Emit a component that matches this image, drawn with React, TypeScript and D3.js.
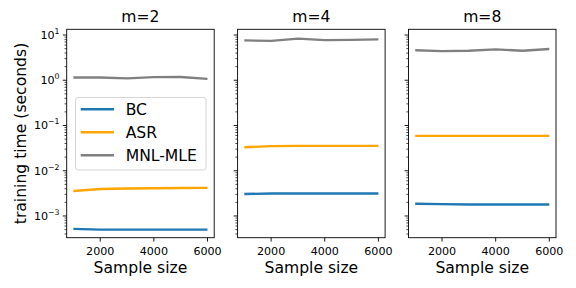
import * as d3 from "d3";

const sampleSizes = [1000, 2000, 3000, 4000, 5000, 6000];
const panelTitles = ["m=2", "m=4", "m=8"];
const methods = ["BC", "ASR", "MNL-MLE"];
const colors = ["#1f77b4", "#ffa500", "#808080"];

// training time (seconds), one array per method per panel
const bcTimes = [
  [5.2e-4, 5.0e-4, 5.0e-4, 5.0e-4, 5.0e-4, 5.0e-4],
  [3.05e-3, 3.15e-3, 3.15e-3, 3.15e-3, 3.15e-3, 3.15e-3],
  [1.87e-3, 1.83e-3, 1.8e-3, 1.8e-3, 1.8e-3, 1.8e-3],
];
const asrTimes = [
  [3.57e-3, 3.95e-3, 4.05e-3, 4.1e-3, 4.15e-3, 4.17e-3],
  [3.3e-2, 3.5e-2, 3.55e-2, 3.55e-2, 3.55e-2, 3.55e-2],
  [5.9e-2, 5.9e-2, 5.9e-2, 5.9e-2, 5.9e-2, 5.9e-2],
];
const mnlTimes = [
  [1.15, 1.15, 1.1, 1.17, 1.18, 1.07],
  [7.6, 7.4, 8.3, 7.7, 7.8, 8.0],
  [4.6, 4.4, 4.5, 4.8, 4.5, 4.9],
];
const xTicks = [2000, 4000, 6000];
const yDecades = [-3, -2, -1, 0, 1];

const W = 576;
const H = 288;
const top = 29.3;
const bottom = 237.7;
const panelW = 147.5;
const panelLefts = [66.7, 237.6, 408.5];
const font = "DejaVu Sans, sans-serif";

const y = d3
  .scaleLog()
  .domain([Math.pow(10, -3.48), Math.pow(10, 1.126)])
  .range([bottom, top]);

const minorTicks: number[] = [];
for (let e = -4; e <= 1; e++) {
  for (let k = 2; k <= 9; k++) {
    const v = k * Math.pow(10, e);
    const [lo, hi] = y.domain();
    if (v >= lo && v <= hi) minorTicks.push(v);
  }
}

function Panel({ idx }: { idx: number }) {
  const left = panelLefts[idx];
  const x = d3
    .scaleLinear()
    .domain([750, 6250])
    .range([left, left + panelW]);
  const series = [bcTimes[idx], asrTimes[idx], mnlTimes[idx]];
  const line = d3
    .line<number>()
    .x((_, i) => x(sampleSizes[i]))
    .y((d) => y(d));

  return (
    <g>
      {series.map((s, i) => (
        <path
          key={i}
          d={line(s) || ""}
          fill="none"
          stroke={colors[i]}
          strokeWidth={2.4}
          strokeLinejoin="round"
          strokeLinecap="butt"
        />
      ))}
      <rect
        x={left}
        y={top}
        width={panelW}
        height={bottom - top}
        fill="none"
        stroke="#000"
        strokeWidth={0.9}
      />
      {yDecades.map((e) => (
        <line
          key={e}
          x1={left - 3.9}
          x2={left}
          y1={y(Math.pow(10, e))}
          y2={y(Math.pow(10, e))}
          stroke="#000"
          strokeWidth={0.9}
        />
      ))}
      {minorTicks.map((v, i) => (
        <line
          key={i}
          x1={left - 2.2}
          x2={left}
          y1={y(v)}
          y2={y(v)}
          stroke="#000"
          strokeWidth={0.7}
        />
      ))}
      {idx === 0 &&
        yDecades.map((e) => (
          <text
            key={e}
            x={59.5}
            y={y(Math.pow(10, e)) + 4}
            textAnchor="end"
            fontSize={11.1}
            fontFamily={font}
          >
            10
            <tspan dy={-5} fontSize={7.8}>
              {e < 0 ? "\u2212" + Math.abs(e) : String(e)}
            </tspan>
          </text>
        ))}
      {xTicks.map((t) => (
        <g key={t}>
          <line
            x1={x(t)}
            x2={x(t)}
            y1={bottom}
            y2={bottom + 3.9}
            stroke="#000"
            strokeWidth={0.9}
          />
          <text
            x={x(t)}
            y={255}
            textAnchor="middle"
            fontSize={11.1}
            fontFamily={font}
          >
            {t}
          </text>
        </g>
      ))}
      <text
        x={left + panelW / 2}
        y={21.5}
        textAnchor="middle"
        fontSize={15.6}
        fontFamily={font}
      >
        {panelTitles[idx]}
      </text>
      <text
        x={left + panelW / 2}
        y={273}
        textAnchor="middle"
        fontSize={15.6}
        fontFamily={font}
      >
        Sample size
      </text>
    </g>
  );
}

function Legend() {
  const lx = 75.5;
  const ly = 97.5;
  return (
    <g>
      <rect
        x={lx}
        y={ly}
        width={130.5}
        height={72.5}
        rx={2.5}
        fill="#fff"
        fillOpacity={0.8}
        stroke="#d0d0d0"
        strokeWidth={0.9}
      />
      {methods.map((m, i) => {
        const cy = 109.3 + i * 23;
        return (
          <g key={m}>
            <line
              x1={80.7}
              x2={114}
              y1={cy}
              y2={cy}
              stroke={colors[i]}
              strokeWidth={2.4}
            />
            <text
              x={125.7}
              y={cy + 5.6}
              fontSize={15.6}
              fontFamily={font}
            >
              {m}
            </text>
          </g>
        );
      })}
    </g>
  );
}

export default function App() {
  return (
    <svg
      width={W}
      height={H}
      style={{ position: "absolute", left: 0, top: 0, background: "#fff" }}
    >
      {panelTitles.map((_, i) => (
        <Panel key={i} idx={i} />
      ))}
      <Legend />
      <text
        transform={`translate(25.5, ${(top + bottom) / 2}) rotate(-90)`}
        textAnchor="middle"
        fontSize={15.6}
        fontFamily={font}
      >
        training time (seconds)
      </text>
    </svg>
  );
}
